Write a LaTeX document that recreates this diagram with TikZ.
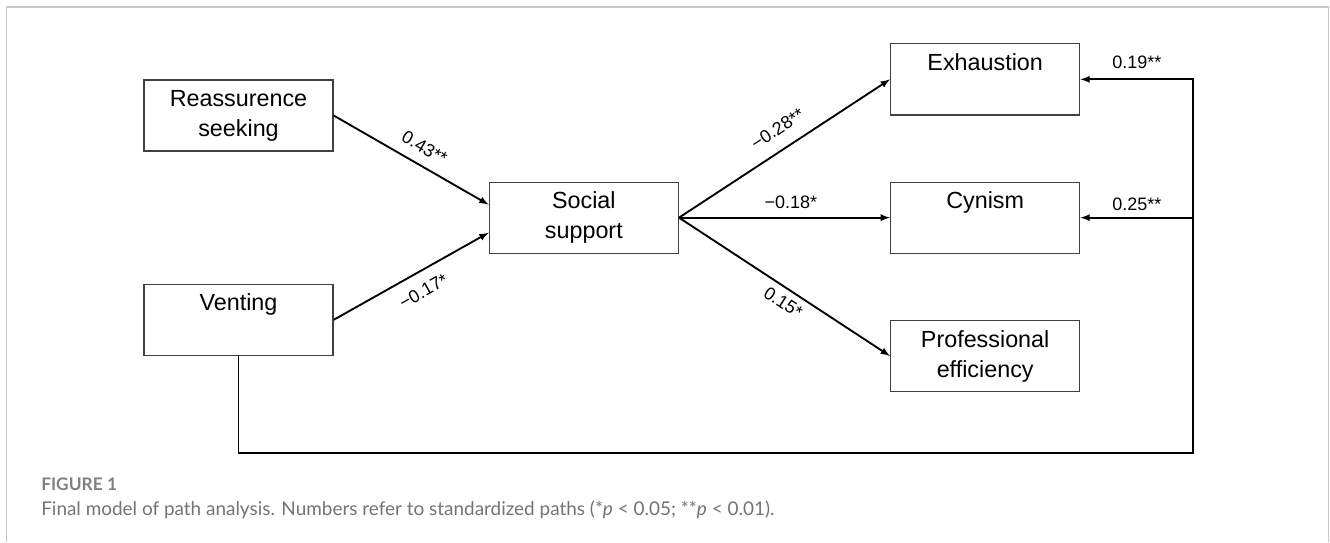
\documentclass[tikz,border=0pt]{standalone}
\usepackage{fontspec}
\setmainfont{Liberation Sans}
\newfontfamily\capfont{Lato}
\usepackage{tikz}
\usetikzlibrary{positioning,calc}

\tikzset{
  var/.style={draw=black!75, line width=1pt, minimum width=141.75pt, minimum height=53.25pt,
    inner sep=2pt, align=center, font=\fontsize{17.5}{22.5}\selectfont},
  coef/.style={font=\fontsize{13.5}{15}\selectfont, inner sep=2pt, outer sep=5pt},
  arr/.style={->, >=latex, draw=black, line width=1.4pt}
}

\begin{document}
\begin{tikzpicture}[x=0.75pt, y=-0.75pt]
  \useasboundingbox (0,0) rectangle (1330,542);
  \draw[black!22, line width=1.2pt] (6.5,542) -- (6.5,7) -- (1328.5,7) -- (1328.5,542);
  \node[var] (rs) at (238.5,115.5) {Reassurence\\seeking}; %
  \node[var, below=99pt of rs] (vent) {Venting\\\phantom{g}}; %
  \coordinate (mid) at ($(rs.east)!0.5!(vent.east)$);
  \node[var, right=116.25pt of mid] (ss) {Social\\support}; %
  \node[var, right=158.25pt of ss] (cy) {Cynism\\\phantom{g}}; %
  \node[var, above=49.5pt of cy] (ex) {Exhaustion\\\phantom{g}}; %
  \node[var, below=49.5pt of cy] (pe) {Professional\\efficiency}; %
  \coordinate (rt) at ($(ex.east)+(113,0)$);
  \coordinate (bl) at ($(vent.south)+(0,97)$);
  % into social support
  \draw[arr] (rs.east) -- node[coef, sloped, above, pos=0.53, outer sep=6.5pt] {0.43**} ($(ss.west)+(0,-13)$);
  \draw[arr] (vent.east) -- node[coef, sloped, below, pos=0.52, outer sep=7.5pt] {−0.17*} ($(ss.west)+(0,15)$);
  % out of social support
  \draw[arr] (ss.east) -- node[coef, sloped, above, pos=0.52, outer sep=8.5pt] {−0.28**} (ex.west);
  \draw[arr] (ss.east) -- node[coef, above, pos=0.53] {−0.18*} (cy.west);
  \draw[arr] (ss.east) -- node[coef, sloped, below, pos=0.53, outer sep=3.5pt] {0.15*} (pe.west);
  % venting to burnout
  \draw[arr] (vent.south) -- (bl) -| (rt) -- node[coef, above, outer sep=6pt] {0.19**} (ex.east);
  \draw[arr] (rt |- cy.east) -- node[coef, above, outer sep=3.5pt] {0.25**} (cy.east);
  \node[anchor=base west, inner sep=0pt, text=black!50, font=\capfont\bfseries\fontsize{13}{15}\selectfont] (fig) at (41,490) {FIGURE 1};
  \node[anchor=base west, inner sep=0pt, text=black!55, font=\capfont\fontsize{14.2}{16}\selectfont] (cap) at (41,515)
    {Final model of path analysis. Numbers refer to standardized paths (*\emph{p} < 0.05; **\emph{p} < 0.01).};
\end{tikzpicture}
\end{document}
